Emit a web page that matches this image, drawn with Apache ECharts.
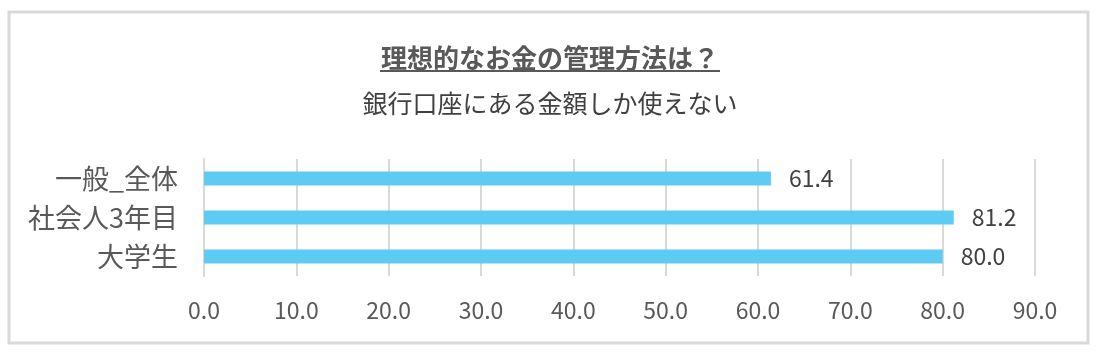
<!DOCTYPE html>
<html>
<head>
<meta charset="utf-8">
<script src="https://cdn.jsdelivr.net/npm/echarts@6/dist/echarts.min.js"></script>
<style>
  html, body { margin: 0; padding: 0; background: #fff; }
  #chart { width: 1100px; height: 352px; }
</style>
</head>
<body>
<div id="chart"></div>
<script>
// 下から上の順
var categories = ['大学生', '社会人3年目', '一般_全体'];
var values = [80.0, 81.2, 61.4];
var titleText = '理想的なお金の管理方法は？';
var subText = '銀行口座にある金額しか使えない';

var font = '"Noto Sans CJK JP", sans-serif';
var myChart = echarts.init(document.getElementById('chart'));

var option = {
    backgroundColor: '#fff',
    animation: false,
    title: [{
        text: titleText,
        left: 'center',
        top: 40,
        textStyle: { fontFamily: font, fontSize: 26, fontWeight: 'bold', color: '#595959' }
    }, {
        text: subText,
        left: 'center',
        top: 86,
        textStyle: { fontFamily: font, fontSize: 25, fontWeight: 'normal', color: '#404040' }
    }],
    graphic: [{
        type: 'rect',
        shape: { x: 9, y: 12, width: 1079, height: 331 },
        style: { fill: 'none', stroke: '#d9d9d9', lineWidth: 3 }
    }, {
        type: 'line',
        shape: { x1: 380, y1: 71, x2: 720, y2: 71 },
        style: { stroke: '#595959', lineWidth: 2 }
    }],
    grid: { left: 204, right: 65, top: 159, bottom: 76 },
    xAxis: {
        type: 'value',
        min: 0,
        max: 90,
        interval: 10,
        axisLine: { show: false },
        axisTick: { show: false },
        splitLine: { lineStyle: { color: '#d9d9d9', width: 2 } },
        axisLabel: {
            margin: 23,
            fontFamily: font, fontSize: 23, color: '#595959',
            formatter: function (v) { return v.toFixed(1); }
        }
    },
    yAxis: {
        type: 'category',
        data: categories,
        axisLine: { lineStyle: { color: '#d9d9d9', width: 2 } },
        axisTick: { show: false },
        axisLabel: { margin: 26, fontFamily: font, fontSize: 27, color: '#595959' }
    },
    series: [{
        type: 'bar',
        data: values,
        barWidth: 14,
        itemStyle: { color: '#5ecbf3' },
        label: {
            show: true,
            position: 'right',
            distance: 18,
            fontFamily: font, fontSize: 23, color: '#404040',
            formatter: function (p) { return p.value.toFixed(1); }
        }
    }]
};

myChart.setOption(option);
</script>
</body>
</html>
